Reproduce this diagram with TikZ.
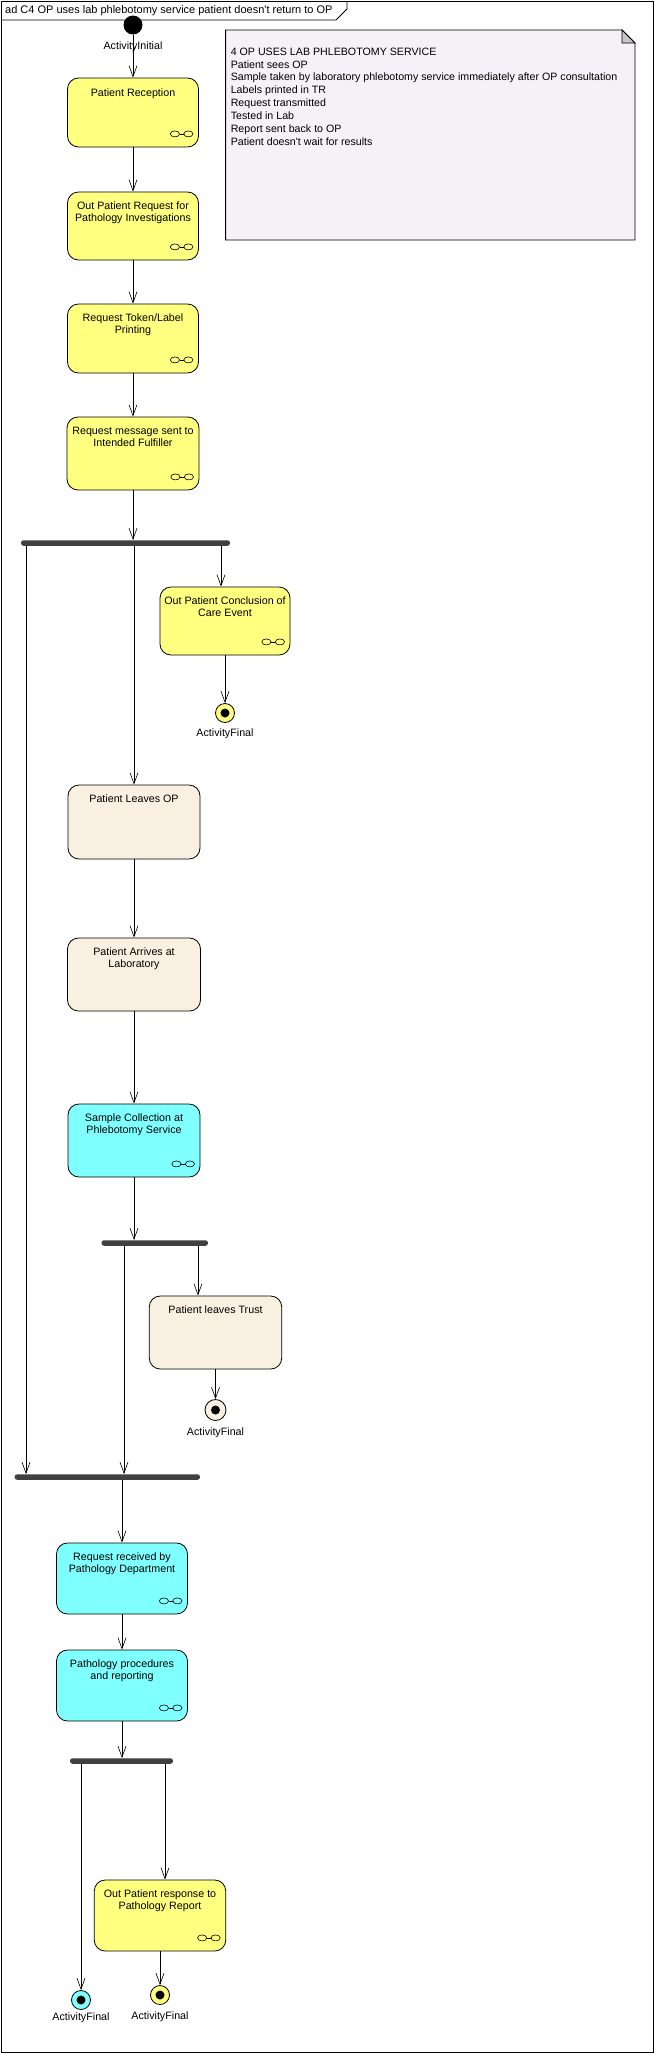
\documentclass[tikz,border=0pt]{standalone}
\usepackage{fontspec}
\setmainfont{Liberation Sans}
\usetikzlibrary{arrows.meta}
\definecolor{actY}{HTML}{FFFF80}
\definecolor{actC}{HTML}{80FFFF}
\definecolor{actB}{HTML}{FAF0E1}
\definecolor{notefill}{HTML}{F6F1F6}
\definecolor{barcol}{HTML}{404040}
\newcommand\acticon[1]{%
  \draw[line width=0.6pt] ([shift={(-24,-13.5)}]#1.south east) ellipse (4.6pt and 3pt)
        ([shift={(-10.5,-13.5)}]#1.south east) ellipse (4.6pt and 3pt);
  \draw[line width=0.6pt] ([shift={(-19.4,-13.5)}]#1.south east) -- ([shift={(-15.1,-13.5)}]#1.south east);}
\begin{document}
\begin{tikzpicture}[x=1pt,y=-1pt,
  font=\fontsize{10.7}{12.3}\selectfont,
  act/.style={draw=black, line width=0.8pt, rounded corners=11pt, minimum width=131pt, inner sep=0pt},
  txt/.style={anchor=north, align=center, inner sep=0pt},
  bar/.style={fill=barcol, rounded corners=2.5pt, minimum height=5.5pt, inner sep=0pt},
  fin/.style={circle, draw=black, line width=0.8pt, minimum size=19pt, inner sep=0pt,
     path picture={\fill[black] (path picture bounding box.center) circle (4.5pt);}},
  flow/.style={draw=black, line width=0.6pt, -{Straight Barb[length=11pt,width=8pt]}},
  lbl/.style={inner sep=0pt}
]
\useasboundingbox (0,0) rectangle (655,2053);
\fill[white] (0,0) rectangle (655,2053);
% frame
\draw[line width=0.9pt] (1,1) rectangle (653.5,2052);
\draw[line width=0.8pt] (1,20) -- (336,20) -- (347,9) -- (347,1);
\node[anchor=west, lbl, font=\fontsize{11}{12.3}\selectfont] (title) at (5,11) {ad C4 OP uses lab phlebotomy service patient doesn\textquotesingle t return to OP};

% note
\draw[line width=0.8pt, fill=notefill] (225.6,30) -- (622,30) -- (635,43) -- (635,240) -- (225.6,240) -- cycle;
\draw[line width=0.8pt, fill=gray!45] (622,30) -- (622,43) -- (635,43) -- cycle;
\node[anchor=north west, align=left, inner sep=0pt, font=\fontsize{10.65}{12.9}\selectfont] (notetext) at (230.6,47.5)
 {4 OP USES LAB PHLEBOTOMY SERVICE\\Patient sees OP\\Sample taken by laboratory phlebotomy service immediately after OP consultation\\Labels printed in TR\\Request transmitted\\Tested in Lab\\Report sent back to OP\\Patient doesn\textquotesingle t wait for results};

% initial
\node[circle, fill=black, minimum size=19pt, inner sep=0pt] (init) at (133,25) {};
\node[lbl] (initl) at (133,47) {ActivityInitial};

% activities
\node[act, fill=actY, minimum height=69pt] (recep) at (133,112.5) {};
\node[txt] (recept) at ([yshift=-11pt]recep.north) {Patient Reception};
\acticon{recep}
\node[act, fill=actY, minimum height=68pt] (opreq) at (133,226) {};
\node[txt] (opreqt) at ([yshift=-10pt]opreq.north) {Out Patient Request for\\Pathology Investigations};
\acticon{opreq}
\node[act, fill=actY, minimum height=69pt] (token) at (133,338.5) {};
\node[txt] (tokent) at ([yshift=-10pt]token.north) {Request Token/Label\\Printing};
\acticon{token}
\node[act, fill=actY, minimum height=73pt, minimum width=132pt] (reqmsg) at (133,453.5) {};
\node[txt] (reqmsgt) at ([yshift=-10pt]reqmsg.north) {Request message sent to\\Intended Fulfiller};
\acticon{reqmsg}

\node[bar, minimum width=209pt] (bar1) at (125.5,543) {};

\node[act, fill=actY, minimum height=68pt, minimum width=130pt] (conc) at (225,621) {};
\node[txt] (conct) at ([yshift=-10pt]conc.north) {Out Patient Conclusion of\\Care Event};
\acticon{conc}
\node[fin, fill=actY] (fin1) at (225,713) {};
\node[lbl] (fin1l) at (225,734) {ActivityFinal};

\node[act, fill=actB, minimum height=74pt, minimum width=132pt] (leaves) at (134,822) {};
\node[txt] (leavest) at ([yshift=-10pt]leaves.north) {Patient Leaves OP};
\node[act, fill=actB, minimum height=73pt, minimum width=133pt] (arrives) at (134,974.5) {};
\node[txt] (arrivest) at ([yshift=-10pt]arrives.north) {Patient Arrives at\\Laboratory};
\node[act, fill=actC, minimum height=73pt, minimum width=132pt] (sample) at (134,1140.5) {};
\node[txt] (samplet) at ([yshift=-10pt]sample.north) {Sample Collection at\\Phlebotomy Service};
\acticon{sample}

\node[bar, minimum width=106.5pt] (bar2) at (154.75,1243) {};

\node[act, fill=actB, minimum height=73pt, minimum width=132.5pt] (trust) at (215.5,1332.5) {};
\node[txt] (trustt) at ([yshift=-10pt]trust.north) {Patient leaves Trust};
\node[fin, fill=actB, minimum size=21pt] (fin2) at (215.5,1410) {};
\node[lbl] (fin2l) at (215.5,1433) {ActivityFinal};

\node[bar, minimum width=185.4pt] (join) at (107.3,1477) {};

\node[act, fill=actC, minimum height=71pt] (recv) at (122,1578.5) {};
\node[txt] (recvt) at ([yshift=-10pt]recv.north) {Request received by\\Pathology Department};
\acticon{recv}
\node[act, fill=actC, minimum height=71pt] (proc) at (122,1685.5) {};
\node[txt] (proct) at ([yshift=-10pt]proc.north) {Pathology procedures\\and reporting};
\acticon{proc}

\node[bar, minimum width=103pt] (bar4) at (121.5,1761) {};

\node[act, fill=actY, minimum height=71pt, minimum width=131.5pt] (resp) at (160,1915.5) {};
\node[txt] (respt) at ([yshift=-10pt]resp.north) {Out Patient response to\\Pathology Report};
\acticon{resp}
\node[fin, fill=actC] (fin3) at (81,2000) {};
\node[lbl] (fin3l) at (81,2018) {ActivityFinal};
\node[fin, fill=actY] (fin4) at (160,1995) {};
\node[lbl] (fin4l) at (160,2017) {ActivityFinal};

% connectors
\draw[flow] (init) -- (recep);
\draw[flow] (recep) -- (opreq);
\draw[flow] (opreq) -- (token);
\draw[flow] (token) -- (reqmsg);
\draw[flow] (reqmsg) -- (reqmsg |- bar1.north);
\draw[flow] (bar1.south -| 221,0) -- (conc.north -| 221,0);
\draw[flow] (conc) -- (fin1);
\draw[flow] (bar1.south -| leaves.north) -- (leaves.north);
\draw[flow] (leaves) -- (arrives);
\draw[flow] (arrives) -- (sample);
\draw[flow] (sample) -- (sample |- bar2.north);
\draw[flow] (bar2.south -| 198,0) -- (trust.north -| 198,0);
\draw[flow] (trust) -- (fin2);
\draw[flow] (bar2.south -| 124,0) -- (join.north -| 124,0);
\draw[flow] (bar1.south -| 26,0) -- (join.north -| 26,0);
\draw[flow] (join.south -| recv.north) -- (recv.north);
\draw[flow] (recv) -- (proc);
\draw[flow] (proc) -- (proc |- bar4.north);
\draw[flow] (bar4.south -| fin3.north) -- (fin3.north);
\draw[flow] (bar4.south -| 165,0) -- (resp.north -| 165,0);
\draw[flow] (resp) -- (fin4);
\end{tikzpicture}
\end{document}
